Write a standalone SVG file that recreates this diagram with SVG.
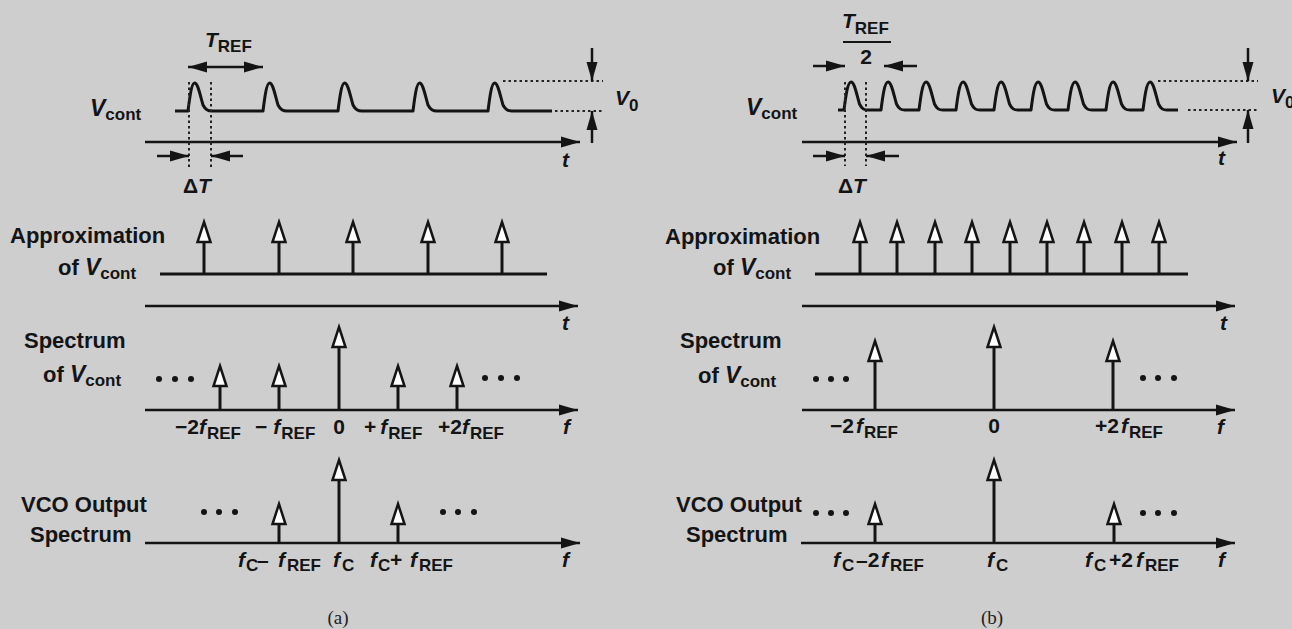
<svg xmlns="http://www.w3.org/2000/svg" xmlns:xlink="http://www.w3.org/1999/xlink" width="1292" height="629" viewBox="0 0 1292 629">
<style>
text{font-family:"Liberation Sans",Arial,Helvetica,sans-serif;font-weight:bold;fill:#141414;font-size:21px}
.lb{font-size:22px}
.it{font-style:italic}
.sub{font-size:17px}
.bigv{font-size:23px;font-style:italic}
.cap{font-family:"Liberation Serif","Times New Roman",serif;font-weight:normal;font-size:19px;fill:#222}
.ax{stroke:#141414;stroke-width:2.5;fill:none}
.ar{stroke:#141414;stroke-width:2.5;fill:none;marker-end:url(#ah)}
.base{stroke:#141414;stroke-width:3.2;fill:none}
.wave{stroke:#141414;stroke-width:3;fill:none;stroke-linejoin:round}
.dot{stroke:#222;stroke-width:2;stroke-dasharray:2.5 3;fill:none}
.stem{stroke:#141414;stroke-width:3}
.hd{fill:#fff;stroke:#141414;stroke-width:2.5;stroke-linejoin:miter}
.el{fill:#141414}
</style>
<defs>
<marker id="ah" markerUnits="userSpaceOnUse" markerWidth="20" markerHeight="12" refX="19" refY="6" orient="auto-start-reverse" overflow="visible">
<path d="M0,0.5 L19,6 L0,11.5 z" fill="#141414"/>
</marker>
<polygon id="head" class="hd" points="0,0 6.5,20 -6.5,20"/>
</defs>
<rect width="1292" height="629" fill="#cecece"/>

<g id="panel-a">
 <g id="a-waveform">
  <path class="wave" d="M175 111 L188 111 C189.5 99 191.5 83 194.5 83 C198 83 200 95 203 105 C205.5 110 208 111 212 111 L263 111 C264.5 99 266.5 83 269.5 83 C273 83 275 95 278 105 C280.5 110 283 111 287 111 L338 111 C339.5 99 341.5 83 344.5 83 C348 83 350 95 353 105 C355.5 110 358 111 362 111 L413 111 C414.5 99 416.5 83 419.5 83 C423 83 425 95 428 105 C430.5 110 433 111 437 111 L488 111 C489.5 99 491.5 83 494.5 83 C498 83 500 95 503 105 C505.5 110 508 111 512 111 L552 111"/>
  <text x="90" y="116"><tspan class="bigv">V</tspan><tspan class="sub" dy="4">cont</tspan></text>
  <text x="205" y="47"><tspan class="it">T</tspan><tspan class="sub" dy="5">REF</tspan></text>
  <text x="615" y="105"><tspan class="it">V</tspan><tspan class="sub" dy="6">0</tspan></text>
  <text x="183" y="193">Δ<tspan class="it">T</tspan></text>
  <text x="562" y="167" class="it">t</text>
 </g>
 <g id="a-approx">
  <text x="10" y="243" class="lb">Approximation</text>
  <text x="58" y="275" class="lb">of <tspan class="bigv">V</tspan><tspan class="sub" dy="4">cont</tspan></text>
  <text x="562" y="330" class="it">t</text>
 </g>
 <g id="a-spectrum">
  <text x="24" y="348" class="lb">Spectrum</text>
  <text x="43" y="382" class="lb">of <tspan class="bigv">V</tspan><tspan class="sub" dy="4">cont</tspan></text>
  <text x="175" y="434">−2<tspan class="it">f</tspan><tspan class="sub" dx="1" dy="5">REF</tspan></text>
  <text x="255" y="434">−<tspan class="it" dx="6">f</tspan><tspan class="sub" dx="1" dy="5">REF</tspan></text>
  <text x="339" y="434" text-anchor="middle">0</text>
  <text x="364" y="434">+<tspan class="it" dx="4">f</tspan><tspan class="sub" dx="1" dy="5">REF</tspan></text>
  <text x="438" y="434">+2<tspan class="it">f</tspan><tspan class="sub" dx="1" dy="5">REF</tspan></text>
  <text x="563" y="434" class="it">f</text>
  <circle class="el" cx="159" cy="379" r="3"/><circle class="el" cx="175" cy="379" r="3"/><circle class="el" cx="191" cy="379" r="3"/>
  <circle class="el" cx="485" cy="378" r="3"/><circle class="el" cx="501" cy="378" r="3"/><circle class="el" cx="517" cy="378" r="3"/>
 </g>
 <g id="a-vco">
  <text x="21" y="512" class="lb">VCO Output</text>
  <text x="30" y="542" class="lb">Spectrum</text>
  <text y="567"><tspan class="it" x="238">f</tspan><tspan class="sub" x="246" dy="4">C</tspan><tspan x="257" dy="-4">–</tspan><tspan class="it" x="278">f</tspan><tspan class="sub" x="287" dy="4">REF</tspan></text>
  <text y="567"><tspan class="it" x="333">f</tspan><tspan class="sub" x="342" dy="4">C</tspan></text>
  <text y="567"><tspan class="it" x="370">f</tspan><tspan class="sub" x="378" dy="4">C</tspan><tspan x="390" dy="-4">+</tspan><tspan class="it" x="410">f</tspan><tspan class="sub" x="419" dy="4">REF</tspan></text>
  <text x="562" y="567" class="it">f</text>
  <circle class="el" cx="204" cy="512" r="3"/><circle class="el" cx="219" cy="512" r="3"/><circle class="el" cx="235" cy="512" r="3"/>
  <circle class="el" cx="443" cy="512" r="3"/><circle class="el" cx="458" cy="512" r="3"/><circle class="el" cx="474" cy="512" r="3"/>
 </g>
 <text class="cap" x="338" y="624" text-anchor="middle">(a)</text>
</g>

<g id="panel-b">
 <g id="b-waveform">
  <path class="wave" d="M838 110 L844 110 C845.5 98 847.5 82 851 82 C854.5 82 856.5 94 859.5 104 C862 109 864 110 868 110 L881 110 C882.5 98 884.5 82 888 82 C891.5 82 893.5 94 896.5 104 C899 109 901 110 905 110 L919 110 C920.5 98 922.5 82 926 82 C929.5 82 931.5 94 934.5 104 C937 109 939 110 943 110 L956 110 C957.5 98 959.5 82 963 82 C966.5 82 968.5 94 971.5 104 C974 109 976 110 980 110 L994 110 C995.5 98 997.5 82 1001 82 C1004.5 82 1006.5 94 1009.5 104 C1012 109 1014 110 1018 110 L1031 110 C1032.5 98 1034.5 82 1038 82 C1041.5 82 1043.5 94 1046.5 104 C1049 109 1051 110 1055 110 L1068 110 C1069.5 98 1071.5 82 1075 82 C1078.5 82 1080.5 94 1083.5 104 C1086 109 1088 110 1092 110 L1106 110 C1107.5 98 1109.5 82 1113 82 C1116.5 82 1118.5 94 1121.5 104 C1124 109 1126 110 1130 110 L1143 110 C1144.5 98 1146.5 82 1150 82 C1153.5 82 1155.5 94 1158.5 104 C1161 109 1163 110 1167 110 L1178 110"/>
  <text x="746" y="115"><tspan class="bigv">V</tspan><tspan class="sub" dy="4">cont</tspan></text>
  <text x="842" y="28"><tspan class="it">T</tspan><tspan class="sub" dy="6">REF</tspan></text>
  <line x1="843" y1="42" x2="891" y2="42" stroke="#141414" stroke-width="2"/>
  <text x="866" y="64" text-anchor="middle">2</text>
  <text x="1271" y="103"><tspan class="it">V</tspan><tspan class="sub" dy="5">0</tspan></text>
  <text x="838" y="193">Δ<tspan class="it">T</tspan></text>
  <text x="1218" y="165" class="it">t</text>
 </g>
 <g id="b-approx">
  <text x="665" y="244" class="lb">Approximation</text>
  <text x="713" y="275" class="lb">of <tspan class="bigv">V</tspan><tspan class="sub" dy="4">cont</tspan></text>
  <text x="1220" y="330" class="it">t</text>
 </g>
 <g id="b-spectrum">
  <text x="680" y="348" class="lb">Spectrum</text>
  <text x="698" y="383" class="lb">of <tspan class="bigv">V</tspan><tspan class="sub" dy="4">cont</tspan></text>
  <text x="830" y="433">−2<tspan class="it" dx="2">f</tspan><tspan class="sub" dx="1" dy="5">REF</tspan></text>
  <text x="994" y="433" text-anchor="middle">0</text>
  <text x="1095" y="433">+2<tspan class="it" dx="2">f</tspan><tspan class="sub" dx="1" dy="5">REF</tspan></text>
  <text x="1217" y="434" class="it">f</text>
  <circle class="el" cx="816" cy="379" r="3"/><circle class="el" cx="831" cy="379" r="3"/><circle class="el" cx="846" cy="379" r="3"/>
  <circle class="el" cx="1143" cy="378" r="3"/><circle class="el" cx="1158" cy="378" r="3"/><circle class="el" cx="1174" cy="378" r="3"/>
 </g>
 <g id="b-vco">
  <text x="676" y="512" class="lb">VCO Output</text>
  <text x="686" y="542" class="lb">Spectrum</text>
  <text y="567"><tspan class="it" x="833">f</tspan><tspan class="sub" x="842" dy="4">C</tspan><tspan x="856" dy="-4">–2</tspan><tspan class="it" x="881">f</tspan><tspan class="sub" x="890" dy="4">REF</tspan></text>
  <text y="567"><tspan class="it" x="987">f</tspan><tspan class="sub" x="996" dy="4">C</tspan></text>
  <text y="567"><tspan class="it" x="1085">f</tspan><tspan class="sub" x="1094" dy="4">C</tspan><tspan x="1109" dy="-4">+2</tspan><tspan class="it" x="1136">f</tspan><tspan class="sub" x="1145" dy="4">REF</tspan></text>
  <text x="1218" y="567" class="it">f</text>
  <circle class="el" cx="816" cy="513" r="3"/><circle class="el" cx="831" cy="513" r="3"/><circle class="el" cx="846" cy="513" r="3"/>
  <circle class="el" cx="1143" cy="513" r="3"/><circle class="el" cx="1158" cy="513" r="3"/><circle class="el" cx="1174" cy="513" r="3"/>
 </g>
 <text class="cap" x="992" y="624" text-anchor="middle">(b)</text>
</g>

<g id="connectors">
 <line class="ar" x1="145" y1="142" x2="580" y2="142"/>
 <line class="base" x1="160" y1="274" x2="547" y2="274"/>
 <line class="ar" x1="145" y1="306" x2="578" y2="306"/>
 <line class="ar" x1="145" y1="410" x2="578" y2="410"/>
 <line class="ar" x1="145" y1="543" x2="580" y2="543"/>
 <line class="dot" x1="189" y1="82" x2="189" y2="168"/>
 <line class="dot" x1="211" y1="82" x2="211" y2="168"/>
 <line class="ar" x1="157" y1="156" x2="189" y2="156"/>
 <line class="ar" x1="243" y1="156" x2="211" y2="156"/>
 <line class="ar" x1="188" y1="67" x2="263" y2="67" style="marker-start:url(#ah)"/>
 <line class="dot" x1="503" y1="81" x2="603" y2="81"/>
 <line class="dot" x1="555" y1="111" x2="603" y2="111"/>
 <line class="ar" x1="592" y1="48" x2="592" y2="81"/>
 <line class="ar" x1="592" y1="143" x2="592" y2="111"/>
 <line class="stem" x1="204" y1="242" x2="204" y2="274"/><use xlink:href="#head" x="204" y="222"/>
 <line class="stem" x1="279" y1="242" x2="279" y2="274"/><use xlink:href="#head" x="279" y="222"/>
 <line class="stem" x1="353" y1="242" x2="353" y2="274"/><use xlink:href="#head" x="353" y="222"/>
 <line class="stem" x1="428" y1="242" x2="428" y2="274"/><use xlink:href="#head" x="428" y="222"/>
 <line class="stem" x1="502" y1="242" x2="502" y2="274"/><use xlink:href="#head" x="502" y="222"/>
 <line class="stem" x1="220" y1="386" x2="220" y2="410"/><use xlink:href="#head" x="220" y="366"/>
 <line class="stem" x1="279" y1="386" x2="279" y2="410"/><use xlink:href="#head" x="279" y="366"/>
 <line class="stem" x1="339" y1="347" x2="339" y2="410"/><use xlink:href="#head" x="339" y="327"/>
 <line class="stem" x1="398" y1="386" x2="398" y2="410"/><use xlink:href="#head" x="398" y="366"/>
 <line class="stem" x1="457" y1="386" x2="457" y2="410"/><use xlink:href="#head" x="457" y="366"/>
 <line class="stem" x1="279" y1="524" x2="279" y2="543"/><use xlink:href="#head" x="279" y="504"/>
 <line class="stem" x1="339" y1="480" x2="339" y2="543"/><use xlink:href="#head" x="339" y="460"/>
 <line class="stem" x1="398" y1="524" x2="398" y2="543"/><use xlink:href="#head" x="398" y="504"/>

 <line class="ar" x1="802" y1="142" x2="1237" y2="142"/>
 <line class="base" x1="815" y1="274" x2="1188" y2="274"/>
 <line class="ar" x1="802" y1="306" x2="1235" y2="306"/>
 <line class="ar" x1="802" y1="410" x2="1235" y2="410"/>
 <line class="ar" x1="801" y1="543" x2="1235" y2="543"/>
 <line class="dot" x1="845" y1="82" x2="845" y2="166"/>
 <line class="dot" x1="866" y1="82" x2="866" y2="166"/>
 <line class="ar" x1="813" y1="156" x2="845" y2="156"/>
 <line class="ar" x1="899" y1="156" x2="866" y2="156"/>
 <line class="ar" x1="813" y1="66" x2="845" y2="66"/>
 <line class="ar" x1="917" y1="66" x2="884" y2="66"/>
 <line class="dot" x1="1158" y1="81" x2="1258" y2="81"/>
 <line class="dot" x1="1188" y1="110" x2="1258" y2="110"/>
 <line class="ar" x1="1248" y1="48" x2="1248" y2="81"/>
 <line class="ar" x1="1248" y1="143" x2="1248" y2="110"/>
 <line class="stem" x1="860" y1="242" x2="860" y2="274"/><use xlink:href="#head" x="860" y="222"/>
 <line class="stem" x1="897" y1="242" x2="897" y2="274"/><use xlink:href="#head" x="897" y="222"/>
 <line class="stem" x1="935" y1="242" x2="935" y2="274"/><use xlink:href="#head" x="935" y="222"/>
 <line class="stem" x1="972" y1="242" x2="972" y2="274"/><use xlink:href="#head" x="972" y="222"/>
 <line class="stem" x1="1010" y1="242" x2="1010" y2="274"/><use xlink:href="#head" x="1010" y="222"/>
 <line class="stem" x1="1047" y1="242" x2="1047" y2="274"/><use xlink:href="#head" x="1047" y="222"/>
 <line class="stem" x1="1084" y1="242" x2="1084" y2="274"/><use xlink:href="#head" x="1084" y="222"/>
 <line class="stem" x1="1122" y1="242" x2="1122" y2="274"/><use xlink:href="#head" x="1122" y="222"/>
 <line class="stem" x1="1159" y1="242" x2="1159" y2="274"/><use xlink:href="#head" x="1159" y="222"/>
 <line class="stem" x1="875" y1="361" x2="875" y2="410"/><use xlink:href="#head" x="875" y="341"/>
 <line class="stem" x1="994" y1="347" x2="994" y2="410"/><use xlink:href="#head" x="994" y="327"/>
 <line class="stem" x1="1113" y1="361" x2="1113" y2="410"/><use xlink:href="#head" x="1113" y="341"/>
 <line class="stem" x1="875" y1="524" x2="875" y2="543"/><use xlink:href="#head" x="875" y="504"/>
 <line class="stem" x1="994" y1="480" x2="994" y2="543"/><use xlink:href="#head" x="994" y="460"/>
 <line class="stem" x1="1114" y1="524" x2="1114" y2="543"/><use xlink:href="#head" x="1114" y="504"/>
</g>
</svg>
